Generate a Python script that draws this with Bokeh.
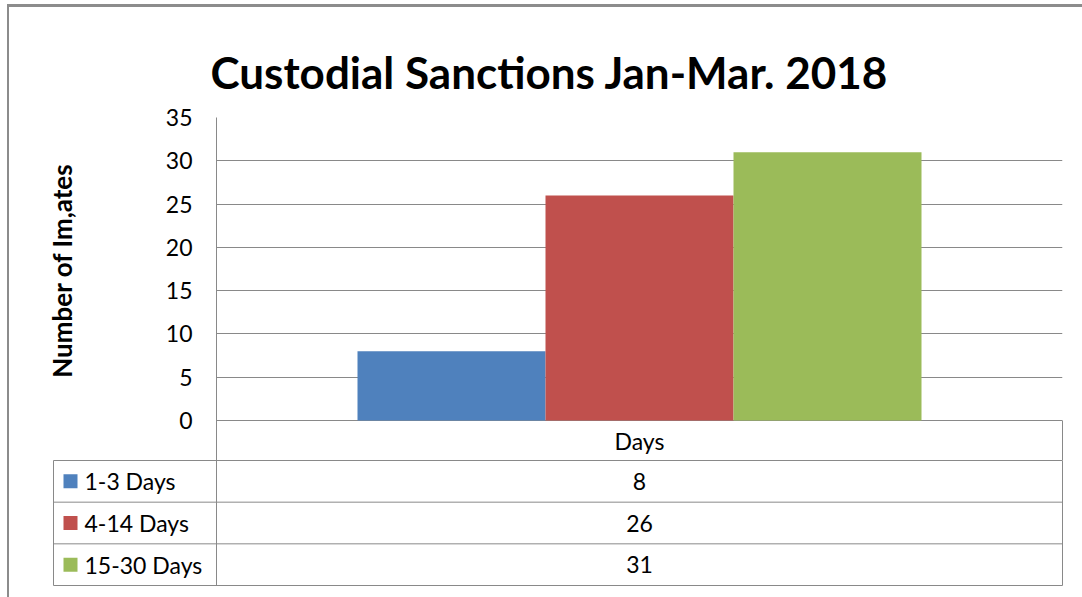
import math
from bokeh.plotting import figure
from bokeh.layouts import column, row
from bokeh.models import ColumnDataSource, FactorRange, Range1d, FixedTicker, LinearAxis
from bokeh.transform import dodge
from bokeh.core.properties import value
from bokeh.embed import file_html
from bokeh.resources import INLINE

# ---- data ----
title_text = "Custodial Sanctions Jan-Mar. 2018"
y_label = "Number of Im,ates"
category = ["Days"]
series = ["1-3 Days", "4-14 Days", "15-30 Days"]
values = [8, 26, 31]
colors = ["#4F81BD", "#C0504D", "#9BBB59"]
y_ticks = [0, 5, 10, 15, 20, 25, 30, 35]

# ---- style / layout (pixels) ----
FONT = "Lato"
GRID = "#898989"
TEXT = "#000000"
FS = "23px"
W, H = 1082, 597
X0, Y0 = 9, 7            # inside the outer border
PLOT_L, PLOT_R = 216, 1062
PLOT_T, PLOT_B = 117, 420
HEAD_B = 460
TABLE_L, TABLE_B = 53, 585
TITLE_X, TITLE_BASE = 549, 71
YLAB_X, YLAB_Y = 61, 270
LAB_W = 100              # width of the strip holding the y-axis title
PAD = 20                 # room above the plot frame for the top tick label
CHART_T = PLOT_T - PAD


def blank(width, height, x_range, y_range):
    f = figure(width=width, height=height, x_range=x_range, y_range=y_range,
               x_axis_type=None, y_axis_type=None, output_backend="svg",
               toolbar_location=None, min_border=0)
    f.frame_align = False
    f.outline_line_color = None
    f.background_fill_color = "white"
    f.border_fill_color = "white"
    f.grid.visible = False
    return f


# ---- title strip ----
ft = blank(W - X0, CHART_T - Y0, Range1d(X0, W), Range1d(CHART_T, Y0))
ft.text(x=[TITLE_X], y=[TITLE_BASE], text=[title_text], text_font=value(FONT),
        text_font_size="44px", text_font_style="bold", text_color=TEXT,
        text_align="center", text_baseline="alphabetic")

# ---- y-axis title strip ----
fl = blank(LAB_W, HEAD_B - CHART_T, Range1d(X0, X0 + LAB_W), Range1d(HEAD_B, CHART_T))
fl.text(x=[YLAB_X], y=[YLAB_Y], text=[y_label], angle=math.pi / 2,
        text_font=value(FONT), text_font_size="26px", text_font_style="bold",
        text_color=TEXT, text_align="center", text_baseline="middle")

# ---- chart ----
y_max = max(y_ticks)
px_per_unit = (PLOT_B - PLOT_T) / y_max
y_min = -(HEAD_B - PLOT_B) / px_per_unit

fa = figure(width=W - X0 - LAB_W, height=HEAD_B - CHART_T,
            x_range=FactorRange(*category), y_range=Range1d(y_min, y_max),
            x_axis_type=None, output_backend="svg", toolbar_location=None,
            min_border_left=PLOT_L - X0 - LAB_W, min_border_right=W - PLOT_R,
            min_border_top=PAD, min_border_bottom=0)
fa.frame_align = False
fa.outline_line_color = None
fa.background_fill_color = "white"
fa.border_fill_color = "white"

ya = fa.yaxis[0]
ya.ticker = FixedTicker(ticks=y_ticks)
ya.major_tick_line_color = None
ya.minor_tick_line_color = None
ya.axis_line_color = GRID
ya.major_label_text_font = FONT
ya.major_label_text_font_size = FS
ya.major_label_text_color = TEXT
ya.major_label_standoff = 18

fa.ygrid.ticker = FixedTicker(ticks=y_ticks)
fa.ygrid.grid_line_color = GRID
for g in fa.xgrid:
    g.visible = False

right = LinearAxis(bounds=(y_min, 0), ticker=FixedTicker(ticks=[]),
                   axis_line_color=GRID, major_tick_line_color=None,
                   minor_tick_line_color=None, major_label_text_font_size="0px")
fa.add_layout(right, "right")

n = len(series)
bar_w = 1.0 / (n + 1.5)
for i, (s, v, c) in enumerate(zip(series, values, colors)):
    src = ColumnDataSource(dict(x=category, top=[v]))
    fa.vbar(x=dodge("x", (i - (n - 1) / 2) * bar_w, range=fa.x_range), top="top",
            width=bar_w, fill_color=c, line_color=None, source=src)

fa.text(x=category, y=[y_min / 2], text=category, text_font=value(FONT),
        text_font_size=FS, text_align="center", text_baseline="middle",
        text_color=TEXT)

# ---- data table ----
fb = figure(width=W - X0, height=H - HEAD_B,
            x_range=Range1d(TABLE_L, PLOT_R), y_range=Range1d(n, 0),
            x_axis_type=None, y_axis_type=None,
            output_backend="svg", toolbar_location=None,
            min_border_left=TABLE_L - X0, min_border_right=W - PLOT_R,
            min_border_top=0, min_border_bottom=H - TABLE_B)
fb.frame_align = False
fb.outline_line_color = GRID
fb.background_fill_color = "white"
fb.border_fill_color = "white"
fb.grid.visible = False

rows = [i + 0.5 for i in range(n)]
fb.segment(x0=TABLE_L, x1=PLOT_R, y0=list(range(1, n)), y1=list(range(1, n)),
           line_color=GRID, line_width=1)
fb.segment(x0=PLOT_L, x1=PLOT_L, y0=0, y1=n, line_color=GRID, line_width=1)
fb.rect(x=70, y=rows, width=14, height=14, width_units="screen",
        height_units="screen", fill_color=colors, line_color=None)
fb.text(x=84, y=rows, text=series, text_font=value(FONT), text_font_size=FS,
        text_align="left", text_baseline="middle", text_color=TEXT)
fb.text(x=(PLOT_L + PLOT_R) / 2, y=rows, text=[str(v) for v in values],
        text_font=value(FONT), text_font_size=FS, text_align="center",
        text_baseline="middle", text_color=TEXT)

col = column(ft, row(fl, fa), fb, margin=(4, 0, 0, 7),
             styles={"border-top": "3px solid #8c8c8c",
                     "border-left": "2px solid #8c8c8c"})

open("out.html", "w").write(file_html(col, INLINE))
